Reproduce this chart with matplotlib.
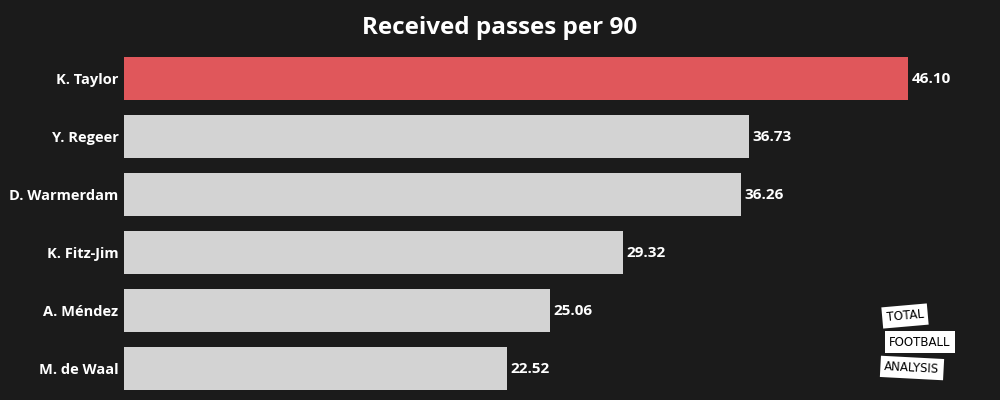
import matplotlib.pyplot as plt

players = ["K. Taylor", "Y. Regeer", "D. Warmerdam", "K. Fitz-Jim", "A. Méndez", "M. de Waal"]
values = [46.10, 36.73, 36.26, 29.32, 25.06, 22.52]
highlight = "K. Taylor"

bg = "#1b1b1b"
plt.rcParams['font.family'] = ['Open Sans', 'DejaVu Sans']

fig = plt.figure(figsize=(10, 4), dpi=100, facecolor=bg)
ax = fig.add_axes([0.124, 0.006, 0.876, 0.87])
ax.set_facecolor(bg)

colors = ["#e0575b" if p == highlight else "#d3d3d3" for p in players]
ypos = list(range(len(players)))
ax.barh(ypos, values, height=0.74, color=colors)
ax.set_ylim(len(players) - 0.5, -0.5)
ax.set_xlim(0, 46.10 * 876 / 784)

for y, v in zip(ypos, values):
    ax.text(v + 0.2, y, "{:.2f}".format(v), color="white", fontsize=11,
            fontweight="bold", va="center", ha="left")

ax.set_yticks(ypos)
ax.set_yticklabels(players, color="white", fontsize=10.5, fontweight="bold")
ax.tick_params(axis="y", length=0, pad=4)
ax.set_xticks([])
for s in ax.spines.values():
    s.set_visible(False)

fig.text(0.5, 0.93, "Received passes per 90", color="white", fontsize=17.5,
         fontweight="bold", ha="center", va="center")

# logo
for (x, y, txt, rot) in [(0.905, 0.21, "TOTAL", 5), (0.92, 0.145, "FOOTBALL", 0),
                         (0.912, 0.08, "ANALYSIS", -3)]:
    fig.text(x, y, txt, color="black", fontsize=8.5, ha="center", va="center",
             rotation=rot, family="DejaVu Sans",
             bbox=dict(boxstyle="square,pad=0.35", fc="white", ec="none"))

fig.savefig("out.png", facecolor=bg)
